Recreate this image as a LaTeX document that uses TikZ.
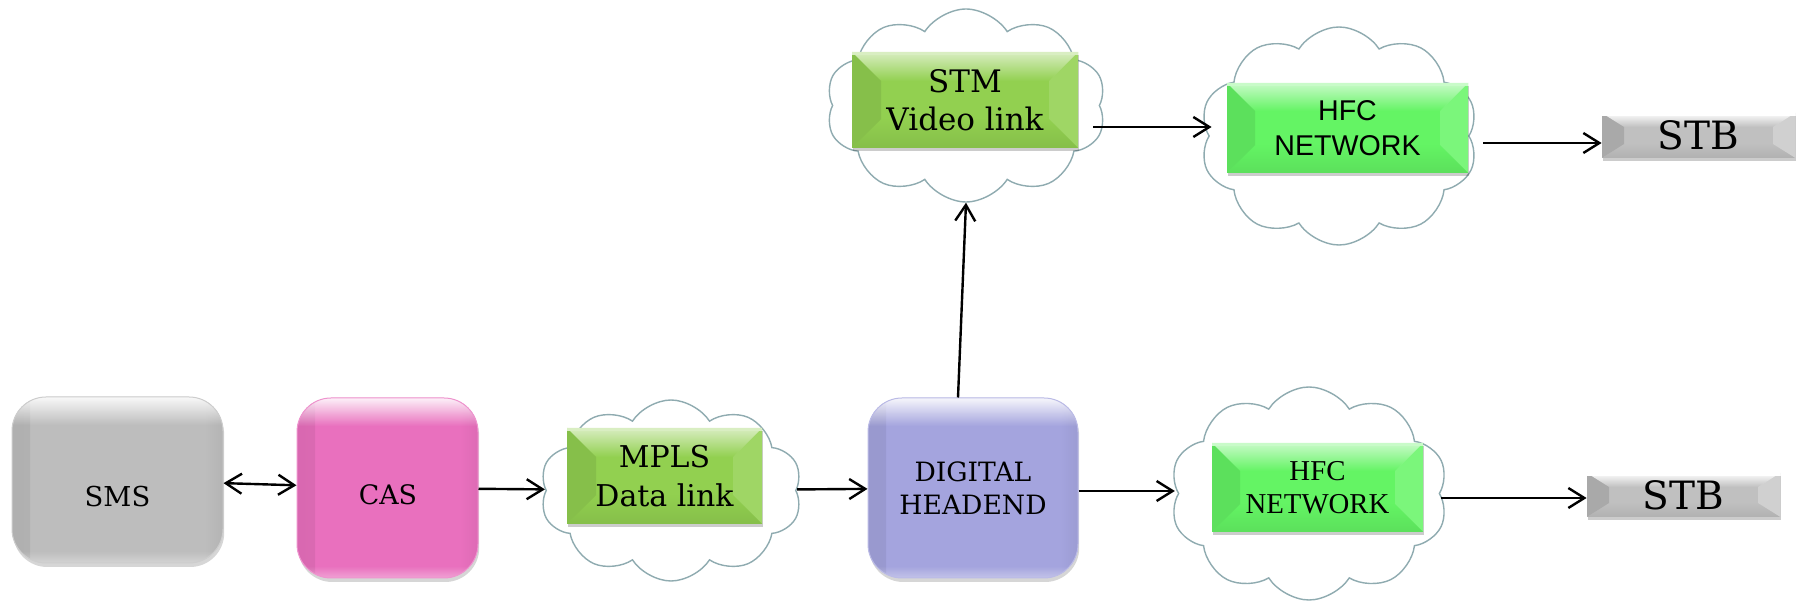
\documentclass[tikz,border=0pt]{standalone}
\usepackage{fontspec}
\usetikzlibrary{shapes.symbols,shadows,calc,arrows.meta,fadings}
\setmainfont{DejaVu Serif}
\newfontfamily\lsans{Liberation Sans}
\newfontfamily\lserif{Liberation Serif}
\definecolor{smsgray}{RGB}{189,189,189}
\definecolor{caspink}{RGB}{233,112,190}
\definecolor{hdblue}{RGB}{164,164,222}
\definecolor{mgreen}{RGB}{146,208,80}
\definecolor{hgreen}{RGB}{100,244,100}
\definecolor{stbgray}{RGB}{192,192,192}
\definecolor{cloudline}{RGB}{143,171,176}
\tikzset{
  glossy/.style={rectangle, rounded corners=17pt, fill=#1, draw=#1!75!white, line width=0.5pt,
    inner sep=0pt,
    drop shadow={shadow xshift=0.6pt, shadow yshift=-2pt, opacity=0.16, fill=black},
    path picture={
      \fill[sharp corners, left color=#1!93!black, right color=#1]
        (path picture bounding box.north west) rectangle ([xshift=9pt]path picture bounding box.south west);
      \fill[sharp corners, right color=#1!95!black, left color=#1]
        (path picture bounding box.north east) rectangle ([xshift=-9pt]path picture bounding box.south east);
      \fill[sharp corners, white, path fading=south, opacity=0.9]
        (path picture bounding box.north west) rectangle ([yshift=-14pt]path picture bounding box.north east);
      \fill[sharp corners, white, path fading=north, opacity=0.35]
        ([yshift=6pt]path picture bounding box.south west) rectangle (path picture bounding box.south east);
    }},
  bevel/.style n args={6}{rectangle, fill=#1, inner sep=0pt, align=center,
    drop shadow={shadow xshift=0.6pt, shadow yshift=-1.6pt, opacity=0.2, fill=black},
    path picture={
      \fill[#2] (path picture bounding box.north west) -- ++(#5,-#6)
        -- ([shift={(#5,#6)}]path picture bounding box.south west) -- (path picture bounding box.south west) -- cycle;
      \fill[#3] (path picture bounding box.north east) -- ++(-#5,-#6)
        -- ([shift={(-#5,#6)}]path picture bounding box.south east) -- (path picture bounding box.south east) -- cycle;
      \fill[#4, path fading=south] (path picture bounding box.north west) -- ++(#5,-#6)
        -- ([shift={(-#5,-#6)}]path picture bounding box.north east) -- (path picture bounding box.north east) -- cycle;
      \fill[#4] (path picture bounding box.north west) rectangle ([yshift=-1.5pt]path picture bounding box.north east);
      \fill[#1!92!black, path fading=north] (path picture bounding box.south west) -- ++(#5,#6)
        -- ([shift={(-#5,#6)}]path picture bounding box.south east) -- (path picture bounding box.south east) -- cycle;
    }},
  cloudnode/.style={cloud, cloud puffs=10, cloud puff arc=115, draw=cloudline, line width=0.7pt,
    fill=white, inner sep=0pt},
  arr/.style={line width=1.2pt, -{Straight Barb[length=8pt,width=10pt]}},
  biarr/.style={line width=1.2pt, {Straight Barb[length=8pt,width=10pt]}-{Straight Barb[length=8pt,width=10pt]}},
}
\begin{document}
\begin{tikzpicture}[x=0.5pt,y=-0.5pt]
\useasboundingbox[fill=white] (0,0) rectangle (1801,603);

% left boxes
\node[glossy=smsgray, minimum width=105.5pt, minimum height=83pt] (sms) at (117.5,480) {};
\node[font=\fontsize{13.7}{16}\selectfont] (smst) at (117.5,497) {SMS};
\node[glossy=caspink, minimum width=90.5pt, minimum height=90pt] (cas) at (387.5,488) {};
\node[font=\fontsize{13.4}{16}\selectfont] (cast) at (388,495) {CAS};
\node[glossy=hdblue, minimum width=105pt, minimum height=90pt] (hd) at (973,488) {};
\node[font=\fontsize{13.3}{16.5}\selectfont, align=center] (hdt) at (973,488.5) {DIGITAL\\HEADEND};

% clouds
\node[cloudnode, aspect=1.45, minimum width=131pt, minimum height=90.5pt] (mcloud) at (671,490.5) {};
\node[cloudnode, aspect=1.45, minimum width=140pt, minimum height=96.5pt] (scloud) at (966,105.5) {};
\node[cloudnode, aspect=1.27, minimum width=139pt, minimum height=109pt] (hcloudA) at (1339,136) {};
\node[cloudnode, aspect=1.3, minimum width=139pt, minimum height=106.5pt] (hcloudB) at (1309,493.5) {};

% bevel boxes
\node[bevel={mgreen}{mgreen!92!black}{mgreen!88!white}{mgreen!35!white}{14.5pt}{14.5pt},
  minimum width=97.5pt, minimum height=48pt,
  font=\fontsize{15}{19.5}\selectfont] (mbox) at (664.5,476) {MPLS\\Data link};
\node[bevel={mgreen}{mgreen!92!black}{mgreen!88!white}{mgreen!35!white}{14.5pt}{14.5pt},
  minimum width=113pt, minimum height=48pt,
  font=\fontsize{15.5}{19}\selectfont] (sbox) at (965,100) {STM\\Video link};
\node[bevel={hgreen}{hgreen!92!black}{hgreen!85!white}{hgreen!35!white}{14pt}{14pt},
  minimum width=120.5pt, minimum height=45pt,
  font=\lsans\fontsize{14.3}{17.5}\selectfont] (hboxA) at (1347.5,128) {HFC\\NETWORK};
\node[bevel={hgreen}{hgreen!92!black}{hgreen!85!white}{hgreen!35!white}{14pt}{14pt},
  minimum width=105.5pt, minimum height=44.5pt,
  font=\lserif\fontsize{14.4}{16.5}\selectfont] (hboxB) at (1317.5,487.5) {HFC\\NETWORK};
\node[bevel={stbgray}{stbgray!88!black}{stbgray!75!white}{white}{11pt}{7pt},
  minimum width=96.5pt, minimum height=22.5pt,
  font=\fontsize{19.5}{24}\selectfont] (stbA) at (1698.5,135.5) {STB};
\node[bevel={stbgray}{stbgray!88!black}{stbgray!75!white}{white}{11pt}{7pt},
  minimum width=96.5pt, minimum height=22pt,
  font=\fontsize{19.5}{24}\selectfont] (stbB) at (1683.5,495) {STB};

% connectors
\draw[biarr] (sms) -- (cas);
\draw[arr] (cas) -- (mcloud);
\draw[arr] (mcloud) -- (hd);
\draw[arr] ($(hd.north)+(-15,0)$) -- (scloud.south);
\draw[arr] ($(sbox.east)+(15,27)$) -- ($(hboxA.west)+(-15,-1)$);
\draw[arr] ($(hboxA.east)+(15,15)$) -- ($(stbA.west)+(0,7.5)$);
\draw[arr] ($(hd.east)+(0,3)$) -- ($(hcloudB.west)+(-3,-2.5)$);
\draw[arr] ($(hcloudB.east)+(1,4.5)$) -- ($(stbB.west)+(0,3)$);
\end{tikzpicture}
\end{document}
